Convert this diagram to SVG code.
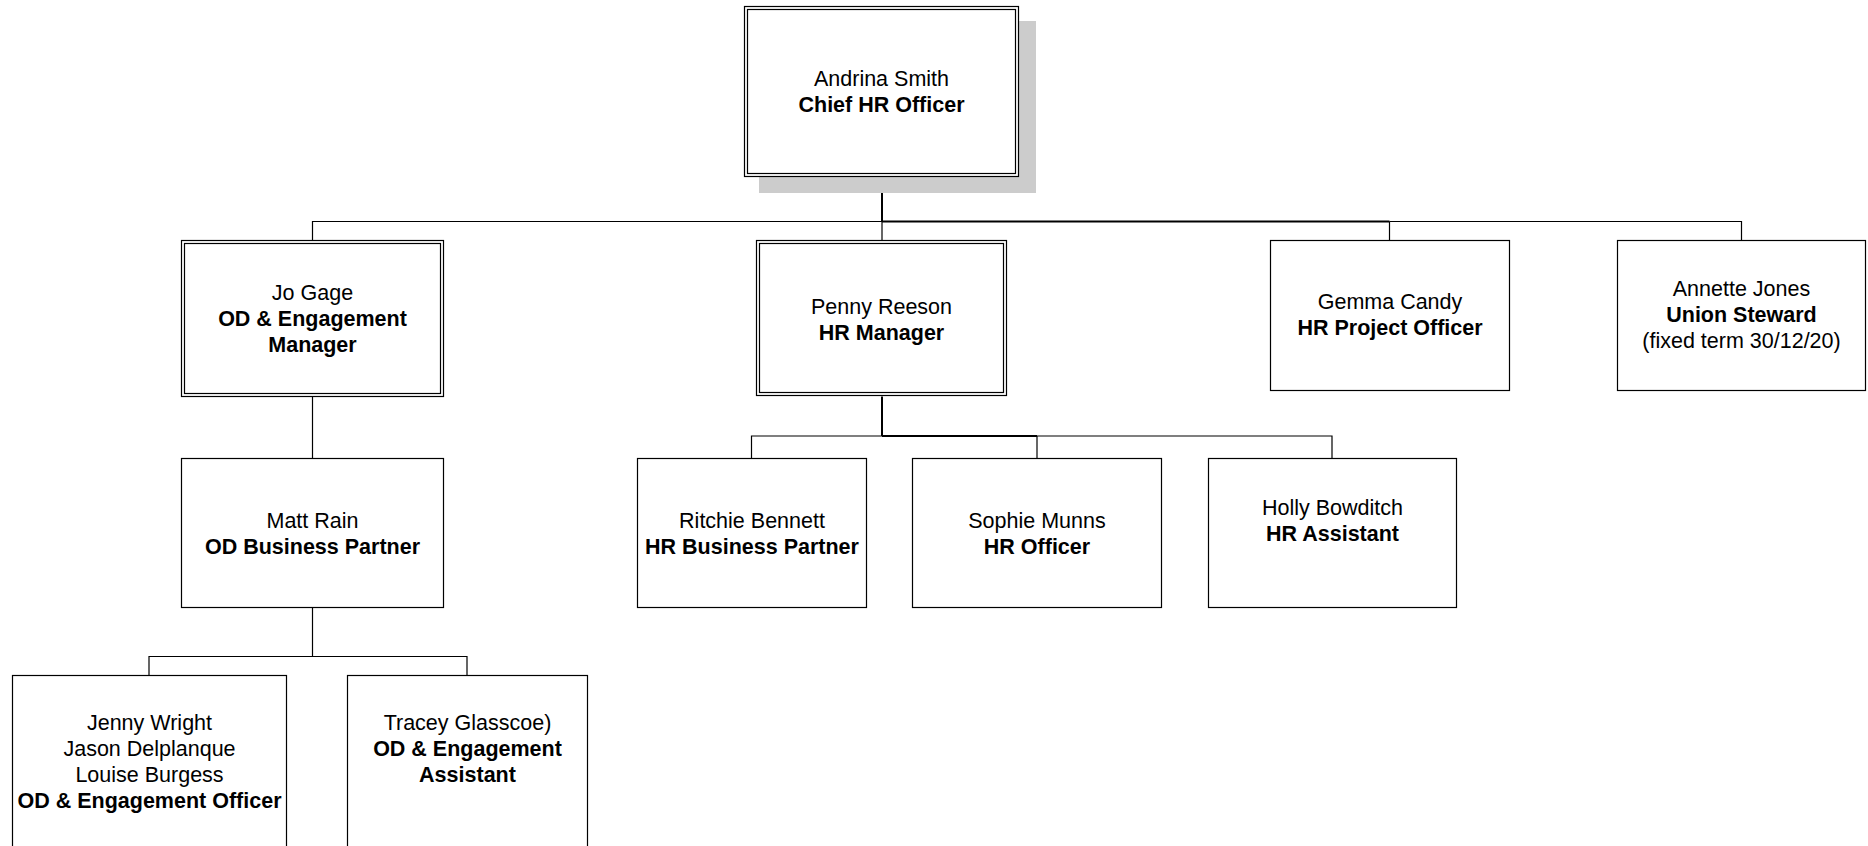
<svg xmlns="http://www.w3.org/2000/svg" width="1868" height="846" viewBox="0 0 1868 846">
<style>
.box{fill:#ffffff;stroke:#000000;stroke-width:1.2}
.inner{fill:none;stroke:#000000;stroke-width:1.2}
.shadow{fill:#cccccc;stroke:none}
.t{font-family:"Liberation Sans",Arial,sans-serif;font-size:21.5px;fill:#000000;text-anchor:middle}
.b{font-weight:bold}
.c{fill:none;stroke:#000000;stroke-width:1.2}
.c2{fill:none;stroke:#000000;stroke-width:2}
</style>
<rect width="1868" height="846" fill="#ffffff"/>
<g id="connectors">
<path class="c2" d="M882 176V221.5"/>
<path class="c" d="M312.5 240.5V221.5H882"/>
<path class="c2" d="M882 221.5H1389.5"/>
<path class="c" d="M1389.5 221.5H1741.5V240.5"/>
<path class="c" d="M882 221.5V240.5"/>
<path class="c" d="M1389.5 221.5V240.5"/>
<path class="c" d="M312.5 396.5V458.5"/>
<path class="c2" d="M882 396.5V436"/>
<path class="c" d="M751.5 458.5V436H882"/>
<path class="c2" d="M882 436H1037"/>
<path class="c" d="M1037 436H1332V458.5"/>
<path class="c" d="M1037 436V458.5"/>
<path class="c" d="M312.5 607.5V656.5"/>
<path class="c" d="M149 675.5V656.5H467V675.5"/>
</g>
<g id="andrina-smith">
<rect class="shadow" x="759" y="21" width="277" height="172"/>
<rect class="box" x="744.5" y="6.5" width="274" height="170"/>
<rect class="inner" x="747.5" y="9.5" width="268" height="164"/>
<text class="t" x="881.5" y="86">Andrina Smith</text>
<text class="t b" x="881.5" y="112">Chief HR Officer</text>
</g>
<g id="jo-gage">
<rect class="box" x="181.5" y="240.5" width="262" height="156"/>
<rect class="inner" x="184.5" y="243.5" width="256" height="150"/>
<text class="t" x="312.5" y="299.5">Jo Gage</text>
<text class="t b" x="312.5" y="325.5">OD &amp; Engagement</text>
<text class="t b" x="312.5" y="351.5">Manager</text>
</g>
<g id="penny-reeson">
<rect class="box" x="756.5" y="240.5" width="250" height="155"/>
<rect class="inner" x="759.5" y="243.5" width="244" height="149"/>
<text class="t" x="881.5" y="313.5">Penny Reeson</text>
<text class="t b" x="881.5" y="339.5">HR Manager</text>
</g>
<g id="gemma-candy">
<rect class="box" x="1270.5" y="240.5" width="239" height="150"/>
<text class="t" x="1390" y="309">Gemma Candy</text>
<text class="t b" x="1390" y="335">HR Project Officer</text>
</g>
<g id="annette-jones">
<rect class="box" x="1617.5" y="240.5" width="248" height="150"/>
<text class="t" x="1741.5" y="296">Annette Jones</text>
<text class="t b" x="1741.5" y="322">Union Steward</text>
<text class="t" x="1741.5" y="348">(fixed term 30/12/20)</text>
</g>
<g id="matt-rain">
<rect class="box" x="181.5" y="458.5" width="262" height="149"/>
<text class="t" x="312.5" y="528">Matt Rain</text>
<text class="t b" x="312.5" y="554">OD Business Partner</text>
</g>
<g id="ritchie-bennett">
<rect class="box" x="637.5" y="458.5" width="229" height="149"/>
<text class="t" x="752" y="528">Ritchie Bennett</text>
<text class="t b" x="752" y="554">HR Business Partner</text>
</g>
<g id="sophie-munns">
<rect class="box" x="912.5" y="458.5" width="249" height="149"/>
<text class="t" x="1037" y="528">Sophie Munns</text>
<text class="t b" x="1037" y="554">HR Officer</text>
</g>
<g id="holly-bowditch">
<rect class="box" x="1208.5" y="458.5" width="248" height="149"/>
<text class="t" x="1332.5" y="515">Holly Bowditch</text>
<text class="t b" x="1332.5" y="541">HR Assistant</text>
</g>
<g id="jenny-wright">
<rect class="box" x="12.5" y="675.5" width="274" height="200"/>
<text class="t" x="149.5" y="729.5">Jenny Wright</text>
<text class="t" x="149.5" y="755.5">Jason Delplanque</text>
<text class="t" x="149.5" y="781.5">Louise Burgess</text>
<text class="t b" x="149.5" y="807.5">OD &amp; Engagement Officer</text>
</g>
<g id="tracey-glasscoe">
<rect class="box" x="347.5" y="675.5" width="240" height="200"/>
<text class="t" x="467.5" y="729.5">Tracey Glasscoe)</text>
<text class="t b" x="467.5" y="755.5">OD &amp; Engagement</text>
<text class="t b" x="467.5" y="781.5">Assistant</text>
</g>
</svg>
